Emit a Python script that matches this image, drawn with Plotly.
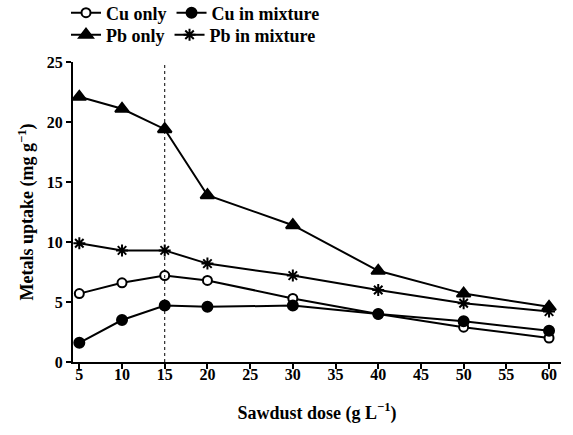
import plotly.graph_objects as go

# Sawdust dose (g/L) and metal uptake (mg/g)
dose = [5, 10, 15, 20, 30, 40, 50, 60]
cu_only = [5.7, 6.6, 7.2, 6.8, 5.3, 4.0, 2.9, 2.0]
cu_mix = [1.6, 3.5, 4.7, 4.6, 4.7, 4.0, 3.4, 2.6]
pb_only = [22.1, 21.1, 19.4, 13.9, 11.4, 7.6, 5.7, 4.6]
pb_mix = [9.9, 9.3, 9.3, 8.2, 7.2, 6.0, 4.9, 4.2]

x_ticks = [5, 10, 15, 20, 25, 30, 35, 40, 45, 50, 55, 60]
y_ticks = [0, 5, 10, 15, 20, 25]
optimum_dose = 15

FONT = "Liberation Serif"
BLACK = "black"

fig = go.Figure()

# (name, values, symbol, size, fill, legend)
series = [
    ("Cu only", cu_only, "circle", 9, "white", "legend"),
    ("Cu in mixture", cu_mix, "circle", 10, BLACK, "legend"),
    ("Pb only", pb_only, "triangle-up", 12, BLACK, "legend2"),
    ("Pb in mixture", pb_mix, "asterisk-open", 10, BLACK, "legend2"),
]
for name, vals, sym, size, fill, leg in series:
    fig.add_trace(go.Scatter(
        x=dose, y=vals, name=name, mode="lines+markers",
        line=dict(color=BLACK, width=2),
        marker=dict(symbol=sym, size=size, color=fill,
                    line=dict(color=BLACK, width=2)),
        legend=leg,
    ))

# dotted guide at the optimum dose
fig.add_shape(type="line", x0=optimum_dose, x1=optimum_dose, y0=0, y1=25,
              xref="x", yref="y", line=dict(color=BLACK, width=1, dash="dot"))

legend_style = dict(orientation="h", xref="container", yref="container",
                    xanchor="left", yanchor="middle",
                    font=dict(family=FONT, size=18, color=BLACK, weight="bold"),
                    bgcolor="rgba(0,0,0,0)", itemwidth=30, tracegroupgap=0)

tick_font = dict(family=FONT, size=16, color=BLACK, weight="bold")
title_font = dict(family=FONT, size=18, color=BLACK, weight="bold")

fig.update_layout(
    width=573, height=435,
    margin=dict(l=73, r=12, t=62, b=73, autoexpand=False),
    plot_bgcolor="white", paper_bgcolor="white",
    font=dict(family=FONT, size=16, color=BLACK),
    showlegend=True,
    legend=dict(x=66 / 573, y=1 - 13 / 435, **legend_style),
    legend2=dict(x=66 / 573, y=1 - 35 / 435, **legend_style),
    xaxis=dict(
        range=[4.26, 61.4], tickvals=x_ticks, ticks="outside", ticklen=5,
        tickwidth=2, tickcolor=BLACK, showline=True, linecolor=BLACK,
        linewidth=2, showgrid=False, zeroline=False, ticklabelstandoff=-8,
        tickfont=tick_font,
        title=dict(text="Sawdust dose (g L<sup>\u22121</sup>)", standoff=24,
                   font=title_font),
    ),
    yaxis=dict(
        range=[0, 25], tickvals=y_ticks, ticks="outside", ticklen=5,
        tickwidth=2, tickcolor=BLACK, showline=True, linecolor=BLACK,
        linewidth=2, showgrid=False, zeroline=False,
        tickfont=tick_font,
        title=dict(text="Metals uptake (mg g<sup>\u22121</sup>)", standoff=8,
                   font=title_font),
    ),
)

fig.write_html("out.html")
